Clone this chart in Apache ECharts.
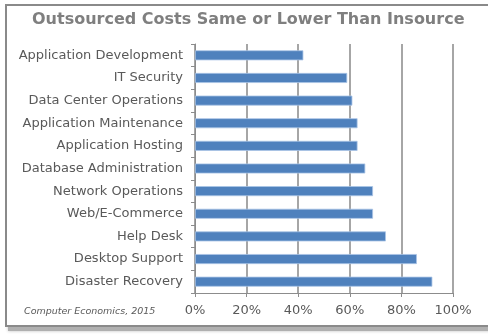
<!DOCTYPE html>
<html>
<head>
<meta charset="utf-8">
<script src="https://cdn.jsdelivr.net/npm/echarts@6/dist/echarts.min.js"></script>
<style>
  html, body { margin: 0; padding: 0; background: #ffffff; }
  #chart { width: 488px; height: 334px; }
</style>
</head>
<body>
<div id="chart"></div>
<script>
// IT functions, listed top to bottom
const categories = [
  'Application Development',
  'IT Security',
  'Data Center Operations',
  'Application Maintenance',
  'Application Hosting',
  'Database Administration',
  'Network Operations',
  'Web/E-Commerce',
  'Help Desk',
  'Desktop Support',
  'Disaster Recovery'
];
// Share of organisations reporting outsourced costs same or lower (%)
const values = [42, 59, 61, 63, 63, 66, 69, 69, 74, 86, 92];
const xTicks = [0, 20, 40, 60, 80, 100];

const chart = echarts.init(document.getElementById('chart'), null, { renderer: 'canvas' });
const font = '"DejaVu Sans", Verdana, sans-serif';

chart.setOption({
  animation: false,
  backgroundColor: '#ffffff',
  graphic: [
    {
      type: 'rect', z: -10, silent: true,
      shape: { x: 8, y: 9, width: 490, height: 322 },
      style: { fill: '#b0b0b0', shadowBlur: 3, shadowColor: 'rgba(0,0,0,0.25)' }
    },
    {
      type: 'rect', z: -9, silent: true,
      shape: { x: 6, y: 5, width: 490, height: 321 },
      style: { fill: '#ffffff', stroke: '#8a8a8a', lineWidth: 2 }
    },
    {
      type: 'text', silent: true,
      left: 24, top: 307,
      style: {
        text: 'Computer Economics, 2015',
        font: 'italic 9.5px "DejaVu Sans", Verdana, sans-serif',
        fill: '#595959'
      }
    },
    {
      type: 'text', silent: true,
      left: 32, top: 12,
      style: {
        text: 'Outsourced Costs Same or Lower Than Insource',
        font: 'bold 16px "DejaVu Sans", Verdana, sans-serif',
        fill: '#7f7f7f'
      }
    }
  ],
  grid: { left: 195, right: 35, top: 44, bottom: 41, containLabel: false },
  xAxis: {
    type: 'value',
    min: xTicks[0], max: xTicks[xTicks.length - 1], interval: 20,
    axisLine: { show: true, lineStyle: { color: '#8c8c8c', width: 1 } },
    axisTick: { show: true, length: 4, lineStyle: { color: '#8c8c8c' } },
    axisLabel: {
      formatter: '{value}%', color: '#595959',
      fontFamily: font, fontSize: 13, margin: 11
    },
    splitLine: { show: true, lineStyle: { color: '#a6a6a6', width: 2 } }
  },
  yAxis: {
    type: 'category',
    data: categories,
    inverse: true,
    axisLine: { show: true, lineStyle: { color: '#8c8c8c', width: 1 } },
    axisTick: { show: true, length: 4, lineStyle: { color: '#8c8c8c' } },
    axisLabel: { color: '#595959', fontFamily: font, fontSize: 13, margin: 12 }
  },
  series: [{
    type: 'bar',
    data: values,
    barWidth: 10,
    itemStyle: { color: '#4f81bd', borderColor: '#a9c4e6', borderWidth: 0.8 }
  }]
});
</script>
</body>
</html>
